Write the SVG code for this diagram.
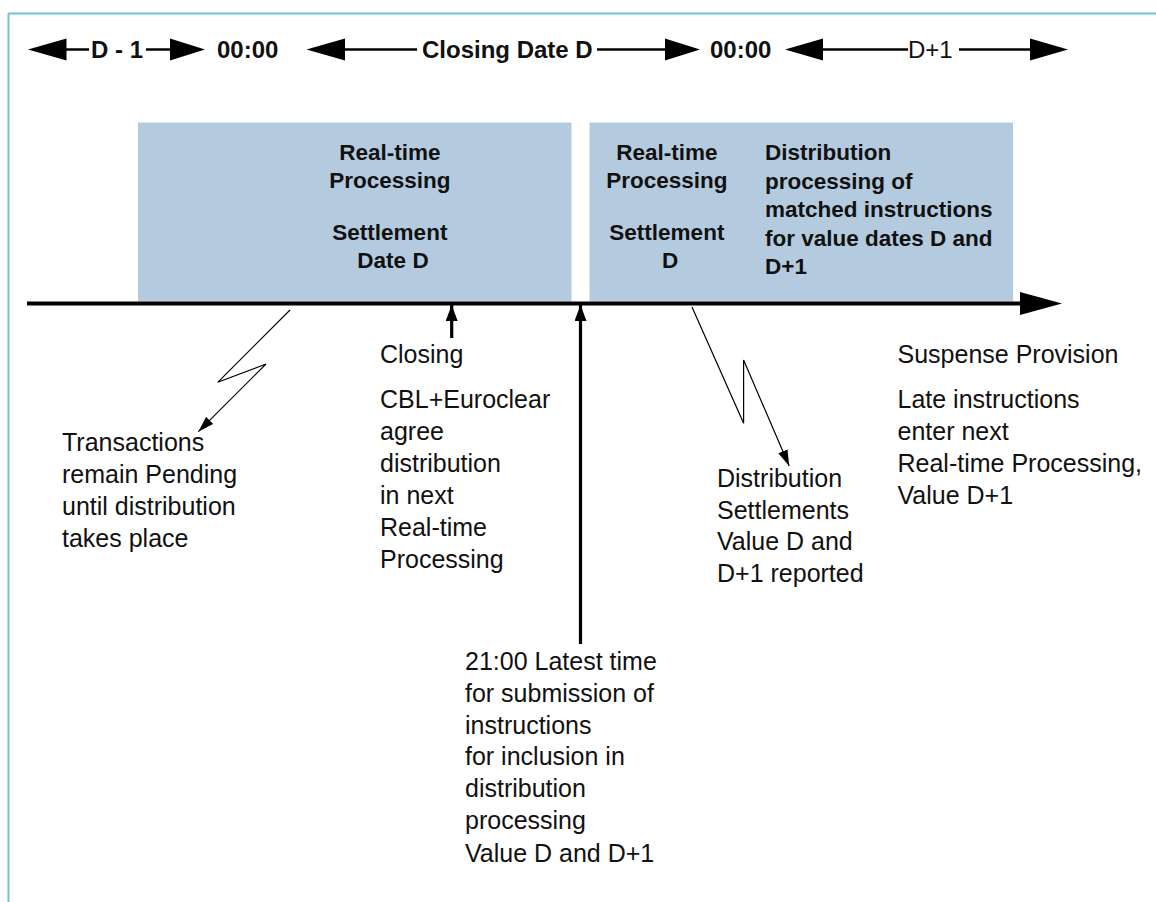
<svg xmlns="http://www.w3.org/2000/svg" width="1156" height="902" viewBox="0 0 1156 902">
  <defs>
    <style>
      .frame { stroke: #6cc6d4; stroke-width: 2; fill: none; }
      .band { fill: #b4cbdf; }
      .scale { stroke: #000; stroke-width: 2.5; fill: none; }
      .head { fill: #000; }
      .axis { stroke: #000; stroke-width: 4; fill: none; }
      .pin { stroke: #000; stroke-width: 3.2; fill: none; }
      .bolt { stroke: #000; stroke-width: 1.2; fill: none; }
      .top { font-family: "Liberation Sans", Arial, sans-serif; font-size: 24px; font-weight: bold; fill: #111; }
      .topr { font-family: "Liberation Sans", Arial, sans-serif; font-size: 24px; fill: #111; }
      .boxt { font-family: "Liberation Sans", Arial, sans-serif; font-size: 22.5px; font-weight: bold; fill: #111; }
      .note { font-family: "Liberation Sans", Arial, sans-serif; font-size: 25px; fill: #111; }
    </style>
    <marker id="tipSmall" viewBox="0 0 16 10" refX="16" refY="5" markerWidth="16" markerHeight="10" markerUnits="userSpaceOnUse" orient="auto">
      <path d="M0,0 L16,5 L0,10 Z" fill="#000"/>
    </marker>
    <marker id="tipPin" viewBox="0 0 16 12" refX="16" refY="6" markerWidth="16" markerHeight="12" markerUnits="userSpaceOnUse" orient="auto">
      <path d="M0,0 L16,6 L0,12 Z" fill="#000"/>
    </marker>
  </defs>

  <!-- page frame -->
  <g id="frame">
    <line class="frame" x1="8" y1="13.5" x2="1156" y2="13.5"/>
    <line class="frame" x1="8.5" y1="13" x2="8.5" y2="902"/>
  </g>

  <!-- processing windows -->
  <g id="window-d">
    <rect class="band" x="138" y="122.5" width="433.5" height="179"/>
    <text class="boxt" text-anchor="middle">
      <tspan x="393" y="160">Real-time</tspan>
      <tspan x="393" y="188">Processing</tspan>
      <tspan x="393" y="240">Settlement</tspan>
      <tspan x="393" y="268">Date D</tspan>
    </text>
  </g>
  <g id="window-d1">
    <rect class="band" x="589.5" y="122.5" width="423.5" height="179"/>
    <text class="boxt" text-anchor="middle">
      <tspan x="670" y="160">Real-time</tspan>
      <tspan x="670" y="188">Processing</tspan>
      <tspan x="670" y="240">Settlement</tspan>
      <tspan x="670" y="268">D</tspan>
    </text>
    <text class="boxt">
      <tspan x="765" y="160">Distribution</tspan>
      <tspan x="765" y="188.5">processing of</tspan>
      <tspan x="765" y="217">matched instructions</tspan>
      <tspan x="765" y="245.5">for value dates D and</tspan>
      <tspan x="765" y="274">D+1</tspan>
    </text>
  </g>

  <!-- day scale labels -->
  <g id="scale-labels">
    <text class="top" x="91" y="58">D - 1</text>
    <text class="top" x="217" y="58">00:00</text>
    <text class="top" x="422" y="58">Closing Date D</text>
    <text class="top" x="710" y="58">00:00</text>
    <text class="topr" x="908" y="58">D+1</text>
  </g>

  <!-- annotations -->
  <g id="note-pending">
    <text class="note">
      <tspan x="62" y="451">Transactions</tspan>
      <tspan x="62" y="483">remain Pending</tspan>
      <tspan x="62" y="515">until distribution</tspan>
      <tspan x="62" y="547">takes place</tspan>
    </text>
  </g>
  <g id="note-closing">
    <text class="note">
      <tspan x="380" y="363">Closing</tspan>
      <tspan x="380" y="408">CBL+Euroclear</tspan>
      <tspan x="380" y="440">agree</tspan>
      <tspan x="380" y="472">distribution</tspan>
      <tspan x="380" y="504">in next</tspan>
      <tspan x="380" y="536">Real-time</tspan>
      <tspan x="380" y="568">Processing</tspan>
    </text>
  </g>
  <g id="note-deadline">
    <text class="note">
      <tspan x="465" y="670">21:00 Latest time</tspan>
      <tspan x="465" y="702">for submission of</tspan>
      <tspan x="465" y="733.5">instructions</tspan>
      <tspan x="465" y="765">for inclusion in</tspan>
      <tspan x="465" y="797">distribution</tspan>
      <tspan x="465" y="829">processing</tspan>
      <tspan x="465" y="861.5">Value D and D+1</tspan>
    </text>
  </g>
  <g id="note-reported">
    <text class="note">
      <tspan x="717" y="487">Distribution</tspan>
      <tspan x="717" y="518.5">Settlements</tspan>
      <tspan x="717" y="550">Value D and</tspan>
      <tspan x="717" y="582">D+1 reported</tspan>
    </text>
  </g>
  <g id="note-suspense">
    <text class="note">
      <tspan x="897.5" y="363">Suspense Provision</tspan>
      <tspan x="897.5" y="408">Late instructions</tspan>
      <tspan x="897.5" y="440">enter next</tspan>
      <tspan x="897.5" y="472">Real-time Processing,</tspan>
      <tspan x="897.5" y="503.5">Value D+1</tspan>
    </text>
  </g>

  <!-- connectors -->
  <g id="connectors">
    <!-- day scale arrows -->
    <polygon class="head" points="28,49.5 66.5,38.5 66.5,60.5"/>
    <line class="scale" x1="66" y1="49.5" x2="89" y2="49.5"/>
    <line class="scale" x1="146" y1="49.5" x2="171" y2="49.5"/>
    <polygon class="head" points="170,38.5 170,60.5 205,49.5"/>

    <polygon class="head" points="306.5,49.5 345,38.5 345,60.5"/>
    <line class="scale" x1="344" y1="49.5" x2="417" y2="49.5"/>
    <line class="scale" x1="597" y1="49.5" x2="666" y2="49.5"/>
    <polygon class="head" points="665,38.5 665,60.5 700,49.5"/>

    <polygon class="head" points="785,49.5 823,38.5 823,60.5"/>
    <line class="scale" x1="822" y1="49.5" x2="908" y2="49.5"/>
    <line class="scale" x1="959" y1="49.5" x2="1031" y2="49.5"/>
    <polygon class="head" points="1030,38.5 1030,60.5 1068,49.5"/>

    <!-- time axis -->
    <line class="axis" x1="27" y1="303.5" x2="1022" y2="303.5"/>
    <polygon class="head" points="1020,292 1020,315 1062,303.5"/>

    <!-- closing marker -->
    <line class="pin" x1="451.7" y1="338" x2="451.7" y2="305" marker-end="url(#tipPin)"/>
    <!-- 21:00 deadline marker -->
    <line class="pin" x1="580.5" y1="644" x2="580.5" y2="305" marker-end="url(#tipPin)"/>

    <!-- lightning arrows -->
    <polyline class="bolt" points="290,310 217.7,382.3 266,364 198.3,431.7" marker-end="url(#tipSmall)"/>
    <polyline class="bolt" points="692,307 743.6,423.3 743.6,360 789.2,466" marker-end="url(#tipSmall)"/>
  </g>
</svg>
